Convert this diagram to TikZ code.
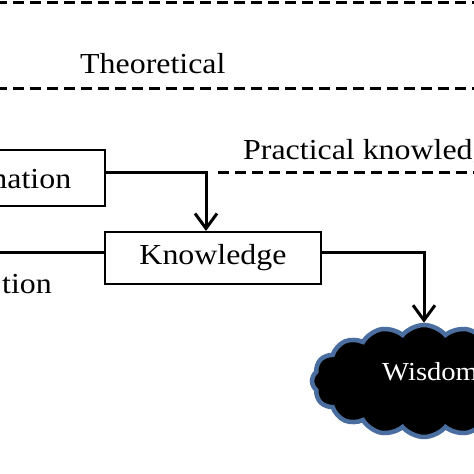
\documentclass[tikz,border=0pt]{standalone}
\usepackage{fontspec}
\setmainfont[FakeStretch=1.1]{Liberation Serif}
\usetikzlibrary{shapes.symbols,arrows.meta}
\definecolor{cloudrim}{RGB}{74,110,160}

\begin{document}
\begin{tikzpicture}[x=1pt,y=-1pt]
	\tikzstyle{every node}=[font=\fontsize{29}{34}\selectfont]
	\tikzstyle{stage}=[draw=black,line width=2pt,rectangle,inner sep=0pt]
	\tikzstyle{flow}=[line width=3pt,-{Straight Barb[length=15pt,width=22pt]}]
	\tikzstyle{divider}=[line width=3pt,dash pattern=on 11pt off 6pt]
	\useasboundingbox (0,0) rectangle (474,474);
	\clip (0,0) rectangle (474,474);
	% levels
	\coordinate (topL) at (-4,2);
	\coordinate (topR) at (480,2);
	\coordinate (theoL) at (-4,88);
	\coordinate (theoR) at (480,88);
	\coordinate (pracL) at (218,172);
	\coordinate (pracR) at (480,172);
	\draw[divider] (topL) -- (topR);
	\draw[divider] (theoL) -- (theoR);
	\draw[divider] (pracL) -- (pracR);
	\node[anchor=base west,inner sep=0pt] (theo) at (80,73) {Theoretical};
	\node[anchor=base west,inner sep=0pt] (prac) at (243,159) {Practical knowledge};
	\node[anchor=base east,inner sep=0pt] (side) at (52,293) {tion};
	% stages
	\node[stage,minimum width=220pt,minimum height=56pt] (info) at (-5,178) {Information};
	\node[stage,minimum width=216pt,minimum height=52pt] (know) at (213,258) {Knowledge};
	\node[cloud,cloud puffs=16,cloud puff arc=100,aspect=2.1,fill=black,draw=cloudrim,line width=4.5pt,
		minimum width=224pt,minimum height=112pt,inner sep=0pt] (wis) at (424,381) {};
	\node[text=white,anchor=base west,inner sep=0pt,font=\fontsize{26}{30}\selectfont] (wistext) at (382,380) {Wisdom};
	\coordinate (feed) at (-20,252);
	% links
	\draw[line width=3pt] (feed) -- ([yshift=6pt]know.west);
	\draw[flow] ([yshift=6pt]info.east) -| ([xshift=-7pt]know.north);
	\draw[flow] ([yshift=6pt]know.east) -| (wis.north);
\end{tikzpicture}
\end{document}
